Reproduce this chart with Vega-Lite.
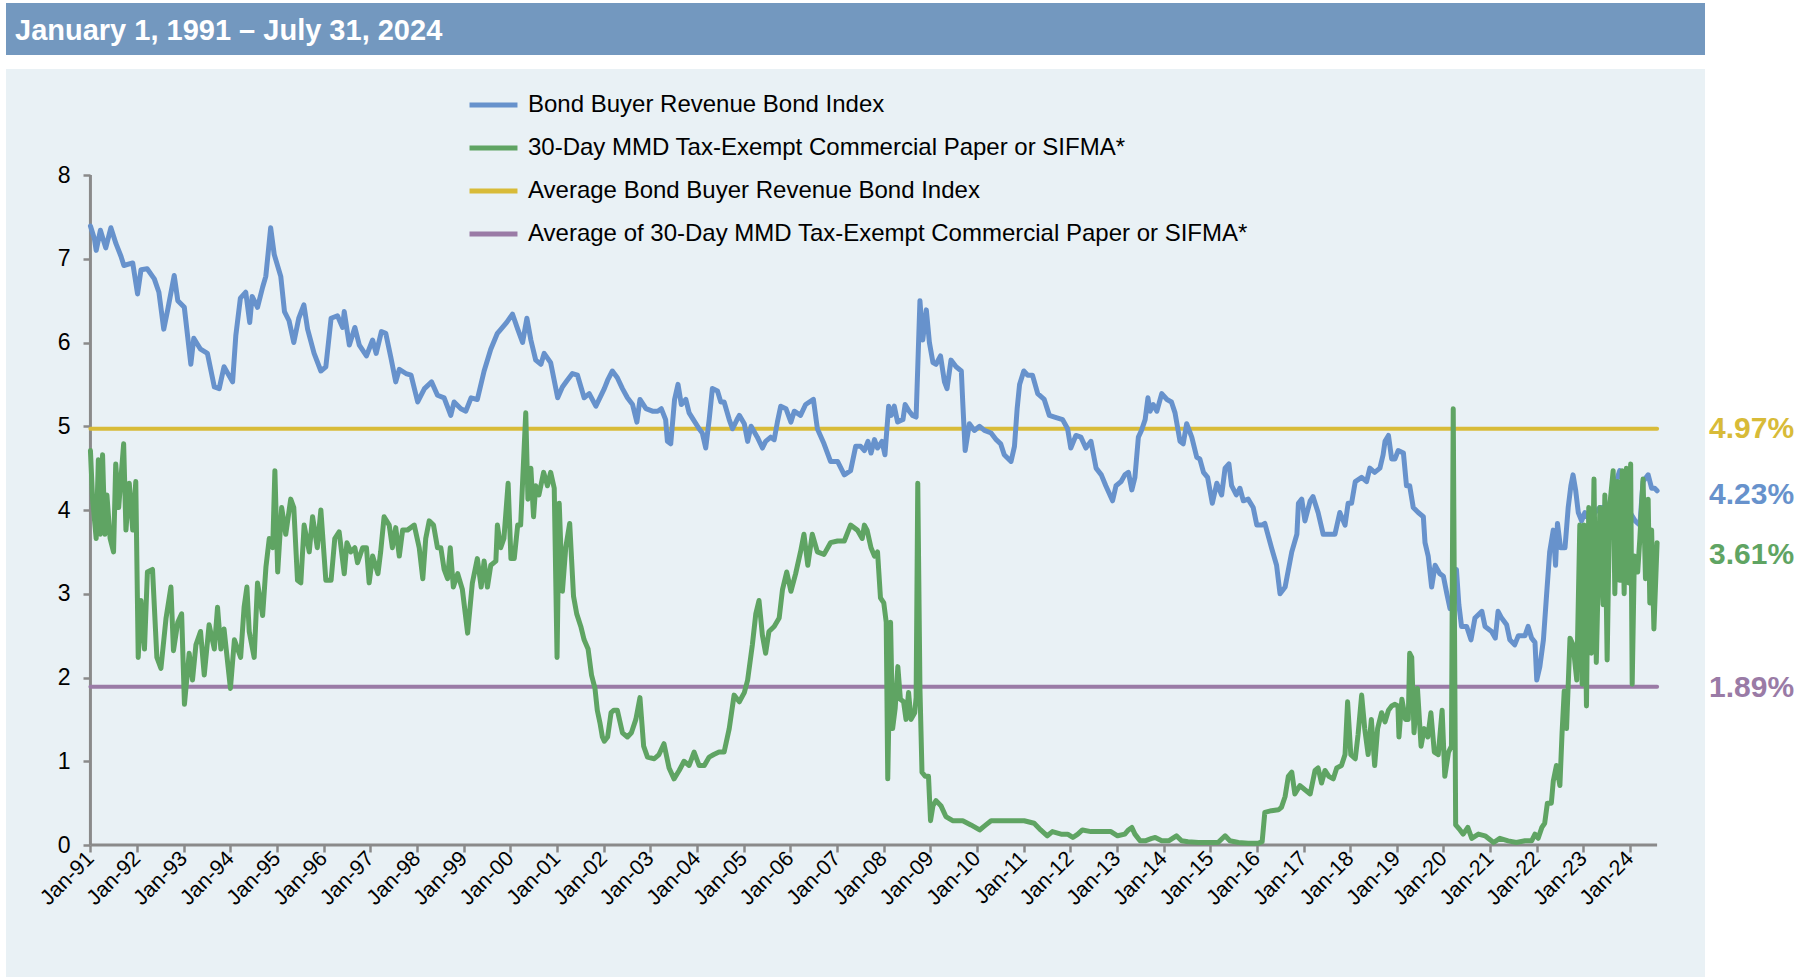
{
"$schema":"https://vega.github.io/schema/vega-lite/v6.json",
"padding":{"left":6,"top":3,"right":0,"bottom":0},
"background":"white",
"spacing":14,
"config":{"view":{"stroke":null},"font":"Liberation Sans"},
"datasets":{
"bond":[
{"date":"1991-01-01","rate":7.39},{"date":"1991-02-01","rate":7.24},{"date":"1991-02-15","rate":7.10},{"date":"1991-03-20","rate":7.34},{"date":"1991-05-01","rate":7.13},{"date":"1991-06-10","rate":7.37},{"date":"1991-07-20","rate":7.18},{"date":"1991-08-28","rate":7.03},{"date":"1991-09-20","rate":6.92},{"date":"1991-11-28","rate":6.95},
{"date":"1992-01-05","rate":6.58},{"date":"1992-02-01","rate":6.87},{"date":"1992-03-20","rate":6.88},{"date":"1992-05-15","rate":6.76},{"date":"1992-06-20","rate":6.60},{"date":"1992-07-28","rate":6.16},{"date":"1992-08-28","rate":6.39},{"date":"1992-10-18","rate":6.80},{"date":"1992-11-15","rate":6.50},
{"date":"1993-01-05","rate":6.42},{"date":"1993-02-25","rate":5.74},{"date":"1993-03-20","rate":6.05},{"date":"1993-05-12","rate":5.92},{"date":"1993-07-05","rate":5.87},{"date":"1993-08-28","rate":5.47},{"date":"1993-10-05","rate":5.45},{"date":"1993-11-12","rate":5.71},
{"date":"1994-01-18","rate":5.53},{"date":"1994-02-12","rate":6.08},{"date":"1994-03-20","rate":6.53},{"date":"1994-05-01","rate":6.60},{"date":"1994-06-01","rate":6.24},{"date":"1994-06-20","rate":6.55},{"date":"1994-08-01","rate":6.42},{"date":"1994-09-10","rate":6.66},{"date":"1994-10-05","rate":6.79},{"date":"1994-11-12","rate":7.37},{"date":"1994-12-10","rate":7.05},
{"date":"1995-01-30","rate":6.79},{"date":"1995-02-28","rate":6.37},{"date":"1995-04-05","rate":6.26},{"date":"1995-05-12","rate":6.00},{"date":"1995-06-20","rate":6.29},{"date":"1995-07-30","rate":6.45},{"date":"1995-08-28","rate":6.16},{"date":"1995-10-18","rate":5.87},{"date":"1995-12-10","rate":5.66},
{"date":"1996-01-18","rate":5.71},{"date":"1996-02-28","rate":6.29},{"date":"1996-04-18","rate":6.32},{"date":"1996-05-28","rate":6.18},{"date":"1996-06-10","rate":6.37},{"date":"1996-07-20","rate":5.97},{"date":"1996-09-01","rate":6.18},{"date":"1996-10-06","rate":5.97},{"date":"1996-12-01","rate":5.84},
{"date":"1997-01-18","rate":6.03},{"date":"1997-02-15","rate":5.87},{"date":"1997-03-28","rate":6.13},{"date":"1997-05-01","rate":6.11},{"date":"1997-06-10","rate":5.82},{"date":"1997-07-18","rate":5.53},{"date":"1997-08-15","rate":5.68},{"date":"1997-10-06","rate":5.63},{"date":"1997-11-15","rate":5.61},
{"date":"1998-01-06","rate":5.29},{"date":"1998-02-28","rate":5.45},{"date":"1998-04-25","rate":5.53},{"date":"1998-06-10","rate":5.37},{"date":"1998-08-01","rate":5.34},{"date":"1998-09-22","rate":5.13},{"date":"1998-10-18","rate":5.29},{"date":"1998-12-10","rate":5.21},
{"date":"1999-01-18","rate":5.18},{"date":"1999-02-28","rate":5.34},{"date":"1999-04-18","rate":5.32},{"date":"1999-06-10","rate":5.66},{"date":"1999-08-01","rate":5.92},{"date":"1999-09-22","rate":6.11},{"date":"1999-11-01","rate":6.18},{"date":"1999-12-04","rate":6.24},
{"date":"2000-01-18","rate":6.34},{"date":"2000-02-28","rate":6.16},{"date":"2000-04-06","rate":6.00},{"date":"2000-05-10","rate":6.29},{"date":"2000-06-10","rate":6.03},{"date":"2000-07-18","rate":5.79},{"date":"2000-08-28","rate":5.74},{"date":"2000-09-22","rate":5.87},{"date":"2000-11-12","rate":5.76},
{"date":"2001-01-06","rate":5.34},{"date":"2001-02-12","rate":5.47},{"date":"2001-03-22","rate":5.55},{"date":"2001-05-01","rate":5.63},{"date":"2001-06-10","rate":5.61},{"date":"2001-08-01","rate":5.34},{"date":"2001-09-10","rate":5.39},{"date":"2001-11-01","rate":5.24},
{"date":"2002-01-06","rate":5.45},{"date":"2002-02-01","rate":5.55},{"date":"2002-03-10","rate":5.66},{"date":"2002-04-18","rate":5.58},{"date":"2002-05-28","rate":5.45},{"date":"2002-07-06","rate":5.34},{"date":"2002-08-15","rate":5.26},{"date":"2002-09-18","rate":5.05},{"date":"2002-10-12","rate":5.32},{"date":"2002-11-28","rate":5.21},
{"date":"2003-01-18","rate":5.18},{"date":"2003-02-28","rate":5.18},{"date":"2003-03-28","rate":5.21},{"date":"2003-05-01","rate":5.08},{"date":"2003-05-15","rate":4.82},{"date":"2003-06-10","rate":4.79},{"date":"2003-07-10","rate":5.32},{"date":"2003-08-06","rate":5.50},{"date":"2003-09-01","rate":5.26},{"date":"2003-10-06","rate":5.32},{"date":"2003-11-01","rate":5.16},{"date":"2003-12-04","rate":5.08},
{"date":"2004-01-18","rate":4.97},{"date":"2004-02-12","rate":4.92},{"date":"2004-03-10","rate":4.74},{"date":"2004-04-06","rate":5.08},{"date":"2004-05-01","rate":5.45},{"date":"2004-06-10","rate":5.42},{"date":"2004-07-06","rate":5.29},{"date":"2004-08-01","rate":5.29},{"date":"2004-09-10","rate":5.08},{"date":"2004-10-06","rate":4.97},{"date":"2004-11-10","rate":5.08},{"date":"2004-11-28","rate":5.13},
{"date":"2005-01-06","rate":5.03},{"date":"2005-02-01","rate":4.82},{"date":"2005-02-28","rate":5.00},{"date":"2005-04-18","rate":4.87},{"date":"2005-05-28","rate":4.74},{"date":"2005-06-22","rate":4.82},{"date":"2005-08-01","rate":4.87},{"date":"2005-08-28","rate":4.84},{"date":"2005-09-22","rate":5.05},{"date":"2005-10-18","rate":5.24},{"date":"2005-11-28","rate":5.21},
{"date":"2006-01-06","rate":5.05},{"date":"2006-02-01","rate":5.18},{"date":"2006-03-22","rate":5.13},{"date":"2006-05-01","rate":5.26},{"date":"2006-07-01","rate":5.32},{"date":"2006-08-01","rate":4.97},{"date":"2006-09-22","rate":4.79},{"date":"2006-11-12","rate":4.58},
{"date":"2007-01-06","rate":4.58},{"date":"2007-02-28","rate":4.42},{"date":"2007-04-18","rate":4.47},{"date":"2007-05-28","rate":4.76},{"date":"2007-07-06","rate":4.76},{"date":"2007-08-04","rate":4.71},{"date":"2007-09-01","rate":4.82},{"date":"2007-09-25","rate":4.68},{"date":"2007-10-22","rate":4.84},{"date":"2007-11-15","rate":4.74},{"date":"2007-12-20","rate":4.82},
{"date":"2008-01-12","rate":4.66},{"date":"2008-02-10","rate":5.24},{"date":"2008-03-01","rate":5.13},{"date":"2008-03-25","rate":5.24},{"date":"2008-04-20","rate":5.05},{"date":"2008-06-01","rate":5.08},{"date":"2008-06-18","rate":5.26},{"date":"2008-07-20","rate":5.18},{"date":"2008-08-15","rate":5.13},{"date":"2008-09-12","rate":5.11},{"date":"2008-09-25","rate":5.71},{"date":"2008-10-12","rate":6.50},{"date":"2008-11-03","rate":6.03},{"date":"2008-12-01","rate":6.39},{"date":"2008-12-25","rate":6.00},
{"date":"2009-01-22","rate":5.76},{"date":"2009-02-15","rate":5.74},{"date":"2009-03-22","rate":5.84},{"date":"2009-04-22","rate":5.53},{"date":"2009-05-12","rate":5.45},{"date":"2009-06-12","rate":5.79},{"date":"2009-07-22","rate":5.71},{"date":"2009-09-01","rate":5.66},{"date":"2009-09-12","rate":5.29},{"date":"2009-10-01","rate":4.71},{"date":"2009-11-03","rate":5.03},{"date":"2009-12-12","rate":4.95},
{"date":"2010-01-22","rate":5.00},{"date":"2010-03-01","rate":4.95},{"date":"2010-04-22","rate":4.92},{"date":"2010-06-01","rate":4.84},{"date":"2010-07-06","rate":4.79},{"date":"2010-08-03","rate":4.66},{"date":"2010-09-25","rate":4.58},{"date":"2010-10-22","rate":4.76},{"date":"2010-11-12","rate":5.21},{"date":"2010-12-01","rate":5.50},
{"date":"2011-01-03","rate":5.66},{"date":"2011-02-03","rate":5.61},{"date":"2011-03-12","rate":5.61},{"date":"2011-04-22","rate":5.39},{"date":"2011-06-12","rate":5.32},{"date":"2011-07-22","rate":5.13},{"date":"2011-09-01","rate":5.11},{"date":"2011-11-03","rate":5.08},{"date":"2011-12-12","rate":4.97},
{"date":"2012-01-06","rate":4.74},{"date":"2012-02-15","rate":4.89},{"date":"2012-03-25","rate":4.87},{"date":"2012-05-03","rate":4.74},{"date":"2012-06-12","rate":4.82},{"date":"2012-07-22","rate":4.50},{"date":"2012-09-01","rate":4.42},{"date":"2012-10-06","rate":4.29},{"date":"2012-11-28","rate":4.11},{"date":"2012-12-25","rate":4.29},
{"date":"2013-02-03","rate":4.34},{"date":"2013-03-04","rate":4.42},{"date":"2013-04-01","rate":4.45},{"date":"2013-04-28","rate":4.24},{"date":"2013-05-22","rate":4.39},{"date":"2013-06-18","rate":4.87},{"date":"2013-07-12","rate":4.95},{"date":"2013-08-10","rate":5.08},{"date":"2013-09-01","rate":5.34},{"date":"2013-09-18","rate":5.18},{"date":"2013-10-12","rate":5.26},{"date":"2013-11-10","rate":5.18},{"date":"2013-12-18","rate":5.39},
{"date":"2014-01-28","rate":5.32},{"date":"2014-03-04","rate":5.29},{"date":"2014-04-01","rate":5.16},{"date":"2014-05-10","rate":4.82},{"date":"2014-06-04","rate":4.79},{"date":"2014-07-01","rate":5.03},{"date":"2014-08-10","rate":4.87},{"date":"2014-09-18","rate":4.63},{"date":"2014-10-12","rate":4.61},{"date":"2014-11-10","rate":4.45},{"date":"2014-12-12","rate":4.39},
{"date":"2015-01-18","rate":4.08},{"date":"2015-02-22","rate":4.32},{"date":"2015-04-01","rate":4.18},{"date":"2015-04-28","rate":4.50},{"date":"2015-05-28","rate":4.55},{"date":"2015-06-18","rate":4.29},{"date":"2015-07-25","rate":4.18},{"date":"2015-08-22","rate":4.26},{"date":"2015-09-18","rate":4.11},{"date":"2015-10-25","rate":4.13},{"date":"2015-12-04","rate":4.03},
{"date":"2016-01-01","rate":3.82},{"date":"2016-02-10","rate":3.82},{"date":"2016-03-04","rate":3.84},{"date":"2016-04-25","rate":3.55},{"date":"2016-06-04","rate":3.34},{"date":"2016-07-01","rate":3.00},{"date":"2016-08-10","rate":3.08},{"date":"2016-10-01","rate":3.50},{"date":"2016-11-10","rate":3.71},{"date":"2016-11-22","rate":4.08},{"date":"2016-12-18","rate":4.13},
{"date":"2017-01-12","rate":3.87},{"date":"2017-02-22","rate":4.11},{"date":"2017-03-16","rate":4.16},{"date":"2017-04-25","rate":3.97},{"date":"2017-06-04","rate":3.71},{"date":"2017-07-25","rate":3.71},{"date":"2017-09-04","rate":3.71},{"date":"2017-10-12","rate":3.97},{"date":"2017-11-22","rate":3.82},{"date":"2017-12-16","rate":4.08},
{"date":"2018-01-12","rate":4.08},{"date":"2018-02-10","rate":4.34},{"date":"2018-04-01","rate":4.39},{"date":"2018-05-10","rate":4.34},{"date":"2018-06-04","rate":4.50},{"date":"2018-07-12","rate":4.45},{"date":"2018-08-22","rate":4.50},{"date":"2018-09-16","rate":4.66},{"date":"2018-10-01","rate":4.82},{"date":"2018-10-28","rate":4.89},{"date":"2018-11-22","rate":4.61},{"date":"2018-12-18","rate":4.61},
{"date":"2019-01-12","rate":4.71},{"date":"2019-02-22","rate":4.68},{"date":"2019-03-18","rate":4.29},{"date":"2019-04-12","rate":4.29},{"date":"2019-05-10","rate":4.03},{"date":"2019-06-18","rate":3.97},{"date":"2019-07-28","rate":3.92},{"date":"2019-08-10","rate":3.61},{"date":"2019-09-04","rate":3.45},{"date":"2019-10-01","rate":3.08},{"date":"2019-10-28","rate":3.34},{"date":"2019-12-04","rate":3.24},
{"date":"2020-01-01","rate":3.21},{"date":"2020-01-28","rate":3.00},{"date":"2020-02-22","rate":2.82},{"date":"2020-03-18","rate":2.82},{"date":"2020-04-12","rate":3.29},{"date":"2020-05-01","rate":2.87},{"date":"2020-05-22","rate":2.61},{"date":"2020-07-01","rate":2.61},{"date":"2020-08-04","rate":2.45},{"date":"2020-09-04","rate":2.71},{"date":"2020-10-28","rate":2.79},{"date":"2020-11-22","rate":2.61},
{"date":"2021-01-12","rate":2.55},{"date":"2021-02-10","rate":2.47},{"date":"2021-03-04","rate":2.79},{"date":"2021-04-01","rate":2.71},{"date":"2021-05-10","rate":2.63},{"date":"2021-06-04","rate":2.45},{"date":"2021-07-12","rate":2.39},{"date":"2021-08-10","rate":2.50},{"date":"2021-10-01","rate":2.50},{"date":"2021-10-25","rate":2.61},{"date":"2021-11-22","rate":2.47},{"date":"2021-12-18","rate":2.42},
{"date":"2022-01-01","rate":1.97},{"date":"2022-01-25","rate":2.13},{"date":"2022-02-22","rate":2.45},{"date":"2022-03-18","rate":2.97},{"date":"2022-04-12","rate":3.50},{"date":"2022-05-10","rate":3.76},{"date":"2022-05-28","rate":3.34},{"date":"2022-06-12","rate":3.84},{"date":"2022-07-06","rate":3.55},{"date":"2022-08-10","rate":3.55},{"date":"2022-09-04","rate":4.03},{"date":"2022-09-25","rate":4.29},{"date":"2022-10-12","rate":4.42},{"date":"2022-11-01","rate":4.24},{"date":"2022-11-22","rate":3.97},{"date":"2022-12-18","rate":3.87},
{"date":"2023-01-12","rate":3.97},{"date":"2023-02-22","rate":3.87},{"date":"2023-04-01","rate":3.97},{"date":"2023-05-10","rate":4.03},{"date":"2023-06-18","rate":4.03},{"date":"2023-07-25","rate":4.08},{"date":"2023-09-04","rate":4.29},{"date":"2023-10-12","rate":4.47},{"date":"2023-11-10","rate":4.34},
{"date":"2024-01-01","rate":3.97},{"date":"2024-02-10","rate":3.87},{"date":"2024-03-18","rate":3.82},{"date":"2024-04-12","rate":4.34},{"date":"2024-05-22","rate":4.42},{"date":"2024-06-18","rate":4.26},{"date":"2024-07-12","rate":4.26},{"date":"2024-07-31","rate":4.23}
],
"sifma":[
{"date":"1991-01-01","rate":4.71},{"date":"1991-01-18","rate":4.13},{"date":"1991-02-15","rate":3.66},{"date":"1991-03-04","rate":4.60},{"date":"1991-03-18","rate":3.71},{"date":"1991-04-06","rate":4.66},{"date":"1991-04-24","rate":3.71},{"date":"1991-05-10","rate":4.18},{"date":"1991-06-04","rate":3.66},{"date":"1991-07-01","rate":3.50},{"date":"1991-07-18","rate":4.55},{"date":"1991-08-10","rate":4.03},{"date":"1991-09-18","rate":4.79},{"date":"1991-10-06","rate":3.76},{"date":"1991-11-01","rate":4.32},{"date":"1991-11-28","rate":3.76},{"date":"1991-12-22","rate":4.34},
{"date":"1992-01-10","rate":2.24},{"date":"1992-02-01","rate":2.92},{"date":"1992-02-28","rate":2.34},{"date":"1992-03-22","rate":3.26},{"date":"1992-05-01","rate":3.29},{"date":"1992-06-04","rate":2.24},{"date":"1992-07-06","rate":2.11},{"date":"1992-08-15","rate":2.71},{"date":"1992-09-22","rate":3.08},{"date":"1992-10-12","rate":2.32},{"date":"1992-11-15","rate":2.66},{"date":"1992-12-15","rate":2.76},
{"date":"1993-01-06","rate":1.68},{"date":"1993-02-12","rate":2.29},{"date":"1993-03-10","rate":1.97},{"date":"1993-04-06","rate":2.39},{"date":"1993-05-12","rate":2.55},{"date":"1993-06-10","rate":2.03},{"date":"1993-07-18","rate":2.63},{"date":"1993-08-28","rate":2.34},{"date":"1993-09-22","rate":2.84},{"date":"1993-10-18","rate":2.34},{"date":"1993-11-12","rate":2.58},
{"date":"1994-01-01","rate":1.87},{"date":"1994-02-01","rate":2.45},{"date":"1994-03-22","rate":2.24},{"date":"1994-04-18","rate":2.84},{"date":"1994-05-10","rate":3.08},{"date":"1994-05-28","rate":2.55},{"date":"1994-07-06","rate":2.24},{"date":"1994-08-01","rate":3.13},{"date":"1994-09-10","rate":2.74},{"date":"1994-10-06","rate":3.32},{"date":"1994-11-01","rate":3.66},{"date":"1994-11-28","rate":3.55},{"date":"1994-12-15","rate":4.47},
{"date":"1995-01-06","rate":3.26},{"date":"1995-02-06","rate":4.03},{"date":"1995-03-10","rate":3.71},{"date":"1995-04-18","rate":4.13},{"date":"1995-05-12","rate":4.03},{"date":"1995-06-10","rate":3.16},{"date":"1995-07-06","rate":3.13},{"date":"1995-08-01","rate":3.82},{"date":"1995-09-10","rate":3.50},{"date":"1995-10-06","rate":3.92},{"date":"1995-11-12","rate":3.55},{"date":"1995-12-10","rate":4.00},
{"date":"1996-01-18","rate":3.16},{"date":"1996-02-28","rate":3.16},{"date":"1996-03-28","rate":3.66},{"date":"1996-05-01","rate":3.74},{"date":"1996-06-10","rate":3.24},{"date":"1996-07-01","rate":3.61},{"date":"1996-08-01","rate":3.50},{"date":"1996-09-01","rate":3.55},{"date":"1996-09-22","rate":3.37},{"date":"1996-11-01","rate":3.55},{"date":"1996-12-01","rate":3.55},{"date":"1996-12-22","rate":3.13},
{"date":"1997-01-18","rate":3.45},{"date":"1997-03-01","rate":3.24},{"date":"1997-03-22","rate":3.50},{"date":"1997-04-18","rate":3.92},{"date":"1997-05-28","rate":3.82},{"date":"1997-06-22","rate":3.55},{"date":"1997-07-18","rate":3.79},{"date":"1997-08-15","rate":3.45},{"date":"1997-09-10","rate":3.76},{"date":"1997-10-18","rate":3.76},{"date":"1997-12-10","rate":3.82},
{"date":"1998-01-18","rate":3.55},{"date":"1998-02-15","rate":3.18},{"date":"1998-03-10","rate":3.66},{"date":"1998-04-06","rate":3.87},{"date":"1998-05-10","rate":3.82},{"date":"1998-06-10","rate":3.55},{"date":"1998-07-06","rate":3.55},{"date":"1998-08-01","rate":3.29},{"date":"1998-08-28","rate":3.18},{"date":"1998-09-18","rate":3.55},{"date":"1998-10-12","rate":3.08},{"date":"1998-11-15","rate":3.24},{"date":"1998-12-22","rate":3.05},
{"date":"1999-02-01","rate":2.53},{"date":"1999-03-10","rate":3.13},{"date":"1999-04-18","rate":3.42},{"date":"1999-05-18","rate":3.08},{"date":"1999-06-10","rate":3.39},{"date":"1999-07-06","rate":3.08},{"date":"1999-08-01","rate":3.34},{"date":"1999-09-10","rate":3.39},{"date":"1999-09-22","rate":3.82},{"date":"1999-10-18","rate":3.55},{"date":"1999-11-12","rate":3.66},{"date":"1999-12-15","rate":4.32},
{"date":"2000-01-06","rate":3.42},{"date":"2000-02-01","rate":3.42},{"date":"2000-02-28","rate":3.82},{"date":"2000-03-22","rate":3.82},{"date":"2000-05-01","rate":5.16},{"date":"2000-05-18","rate":4.13},{"date":"2000-06-10","rate":4.50},{"date":"2000-07-01","rate":3.92},{"date":"2000-07-18","rate":4.29},{"date":"2000-08-12","rate":4.18},{"date":"2000-09-18","rate":4.45},{"date":"2000-10-18","rate":4.29},{"date":"2000-11-12","rate":4.45},{"date":"2000-12-10","rate":4.26},
{"date":"2001-01-01","rate":2.24},{"date":"2001-01-18","rate":4.08},{"date":"2001-02-12","rate":3.03},{"date":"2001-03-10","rate":3.55},{"date":"2001-04-10","rate":3.84},{"date":"2001-05-10","rate":2.97},{"date":"2001-06-04","rate":2.76},{"date":"2001-07-06","rate":2.61},{"date":"2001-08-01","rate":2.45},{"date":"2001-09-01","rate":2.34},{"date":"2001-09-28","rate":2.03},{"date":"2001-10-25","rate":1.87},{"date":"2001-11-12","rate":1.61},{"date":"2001-12-04","rate":1.45},{"date":"2001-12-22","rate":1.29},
{"date":"2002-01-06","rate":1.24},{"date":"2002-02-01","rate":1.29},{"date":"2002-02-28","rate":1.58},{"date":"2002-03-22","rate":1.61},{"date":"2002-04-18","rate":1.61},{"date":"2002-05-28","rate":1.34},{"date":"2002-07-06","rate":1.29},{"date":"2002-08-06","rate":1.34},{"date":"2002-09-10","rate":1.50},{"date":"2002-10-12","rate":1.76},{"date":"2002-11-10","rate":1.18},{"date":"2002-12-10","rate":1.05},
{"date":"2003-02-01","rate":1.03},{"date":"2003-03-10","rate":1.08},{"date":"2003-04-18","rate":1.21},{"date":"2003-05-28","rate":0.92},{"date":"2003-07-06","rate":0.79},{"date":"2003-08-15","rate":0.89},{"date":"2003-09-22","rate":1.00},{"date":"2003-11-01","rate":0.95},{"date":"2003-12-10","rate":1.11},
{"date":"2004-01-18","rate":0.95},{"date":"2004-02-28","rate":0.95},{"date":"2004-04-06","rate":1.05},{"date":"2004-05-12","rate":1.08},{"date":"2004-06-22","rate":1.11},{"date":"2004-08-01","rate":1.11},{"date":"2004-09-10","rate":1.39},{"date":"2004-10-18","rate":1.79},{"date":"2004-11-28","rate":1.71},
{"date":"2005-01-06","rate":1.82},{"date":"2005-02-01","rate":1.97},{"date":"2005-03-10","rate":2.39},{"date":"2005-04-06","rate":2.76},{"date":"2005-05-01","rate":2.92},{"date":"2005-05-28","rate":2.50},{"date":"2005-06-22","rate":2.29},{"date":"2005-07-18","rate":2.55},{"date":"2005-08-28","rate":2.61},{"date":"2005-10-06","rate":2.71},{"date":"2005-11-01","rate":3.05},{"date":"2005-12-04","rate":3.26},
{"date":"2006-01-06","rate":3.03},{"date":"2006-02-12","rate":3.24},{"date":"2006-03-22","rate":3.50},{"date":"2006-04-18","rate":3.71},{"date":"2006-05-18","rate":3.34},{"date":"2006-06-22","rate":3.71},{"date":"2006-08-01","rate":3.50},{"date":"2006-09-22","rate":3.47},{"date":"2006-11-12","rate":3.61},
{"date":"2007-01-06","rate":3.63},{"date":"2007-02-28","rate":3.63},{"date":"2007-04-18","rate":3.82},{"date":"2007-06-10","rate":3.76},{"date":"2007-07-18","rate":3.66},{"date":"2007-08-04","rate":3.82},{"date":"2007-08-25","rate":3.76},{"date":"2007-09-25","rate":3.55},{"date":"2007-10-22","rate":3.45},{"date":"2007-11-15","rate":3.50},{"date":"2007-12-08","rate":2.95},
{"date":"2008-01-03","rate":2.89},{"date":"2008-01-22","rate":2.66},{"date":"2008-02-03","rate":0.79},{"date":"2008-02-25","rate":2.66},{"date":"2008-03-12","rate":1.39},{"date":"2008-04-01","rate":1.63},{"date":"2008-04-22","rate":2.13},{"date":"2008-05-12","rate":1.74},{"date":"2008-06-06","rate":1.71},{"date":"2008-06-25","rate":1.50},{"date":"2008-07-15","rate":1.82},{"date":"2008-08-03","rate":1.50},{"date":"2008-09-01","rate":1.58},{"date":"2008-09-12","rate":1.76},{"date":"2008-09-25","rate":4.32},{"date":"2008-10-12","rate":1.87},{"date":"2008-10-28","rate":0.87},{"date":"2008-11-22","rate":0.82},{"date":"2008-12-18","rate":0.82},
{"date":"2009-01-03","rate":0.29},{"date":"2009-01-22","rate":0.47},{"date":"2009-02-15","rate":0.53},{"date":"2009-03-25","rate":0.47},{"date":"2009-05-03","rate":0.34},{"date":"2009-06-25","rate":0.29},{"date":"2009-09-12","rate":0.29},{"date":"2009-11-15","rate":0.24},
{"date":"2010-01-22","rate":0.18},{"date":"2010-03-12","rate":0.24},{"date":"2010-04-22","rate":0.29},{"date":"2010-07-06","rate":0.29},{"date":"2010-09-25","rate":0.29},
{"date":"2011-01-06","rate":0.29},{"date":"2011-03-25","rate":0.26},{"date":"2011-05-15","rate":0.18},{"date":"2011-07-06","rate":0.11},{"date":"2011-08-15","rate":0.16},{"date":"2011-10-22","rate":0.13},{"date":"2011-12-12","rate":0.13},
{"date":"2012-01-22","rate":0.09},{"date":"2012-03-01","rate":0.13},{"date":"2012-04-06","rate":0.18},{"date":"2012-06-12","rate":0.16},{"date":"2012-09-01","rate":0.16},{"date":"2012-11-15","rate":0.16},
{"date":"2013-01-06","rate":0.11},{"date":"2013-03-04","rate":0.13},{"date":"2013-04-01","rate":0.18},{"date":"2013-04-28","rate":0.21},{"date":"2013-05-22","rate":0.13},{"date":"2013-07-01","rate":0.05},{"date":"2013-08-10","rate":0.05},{"date":"2013-10-01","rate":0.08},{"date":"2013-10-28","rate":0.09},{"date":"2013-12-18","rate":0.05},
{"date":"2014-02-10","rate":0.05},{"date":"2014-04-12","rate":0.11},{"date":"2014-05-22","rate":0.05},{"date":"2014-07-12","rate":0.04},{"date":"2014-10-01","rate":0.03},{"date":"2014-12-18","rate":0.03},
{"date":"2015-03-04","rate":0.03},{"date":"2015-04-28","rate":0.11},{"date":"2015-06-04","rate":0.05},{"date":"2015-08-10","rate":0.03},{"date":"2015-10-25","rate":0.02},
{"date":"2016-01-12","rate":0.02},{"date":"2016-02-12","rate":0.04},{"date":"2016-03-04","rate":0.39},{"date":"2016-04-25","rate":0.41},{"date":"2016-06-18","rate":0.42},{"date":"2016-07-12","rate":0.45},{"date":"2016-08-10","rate":0.58},{"date":"2016-09-04","rate":0.82},{"date":"2016-10-01","rate":0.87},{"date":"2016-10-25","rate":0.61},{"date":"2016-12-04","rate":0.71},
{"date":"2017-01-12","rate":0.66},{"date":"2017-02-22","rate":0.61},{"date":"2017-04-01","rate":0.89},{"date":"2017-04-25","rate":0.92},{"date":"2017-05-22","rate":0.74},{"date":"2017-06-18","rate":0.89},{"date":"2017-07-18","rate":0.82},{"date":"2017-08-22","rate":0.79},{"date":"2017-09-18","rate":0.92},{"date":"2017-10-25","rate":0.95},{"date":"2017-11-22","rate":1.08},{"date":"2017-12-12","rate":1.71},
{"date":"2018-01-06","rate":1.08},{"date":"2018-02-10","rate":1.03},{"date":"2018-03-04","rate":1.32},{"date":"2018-04-01","rate":1.79},{"date":"2018-04-25","rate":1.39},{"date":"2018-05-22","rate":1.08},{"date":"2018-06-16","rate":1.50},{"date":"2018-07-12","rate":0.95},{"date":"2018-08-04","rate":1.39},{"date":"2018-09-04","rate":1.58},{"date":"2018-10-01","rate":1.47},{"date":"2018-10-28","rate":1.61},{"date":"2018-11-22","rate":1.66},{"date":"2018-12-18","rate":1.68},
{"date":"2019-01-10","rate":1.66},{"date":"2019-01-18","rate":1.29},{"date":"2019-02-10","rate":1.74},{"date":"2019-03-10","rate":1.50},{"date":"2019-04-01","rate":1.50},{"date":"2019-04-12","rate":2.29},{"date":"2019-04-28","rate":2.24},{"date":"2019-05-16","rate":1.34},{"date":"2019-06-12","rate":1.87},{"date":"2019-07-10","rate":1.18},{"date":"2019-08-04","rate":1.39},{"date":"2019-09-01","rate":1.29},{"date":"2019-09-25","rate":1.58},{"date":"2019-10-22","rate":1.11},{"date":"2019-11-22","rate":1.08},{"date":"2019-12-22","rate":1.61},
{"date":"2020-01-12","rate":0.82},{"date":"2020-02-10","rate":1.11},{"date":"2020-03-04","rate":1.18},{"date":"2020-03-18","rate":5.21},{"date":"2020-04-06","rate":0.24},{"date":"2020-05-10","rate":0.18},{"date":"2020-06-04","rate":0.13},{"date":"2020-07-10","rate":0.21},{"date":"2020-08-10","rate":0.08},{"date":"2020-10-01","rate":0.13},{"date":"2020-11-22","rate":0.11},
{"date":"2021-01-28","rate":0.03},{"date":"2021-03-18","rate":0.08},{"date":"2021-05-22","rate":0.05},{"date":"2021-07-25","rate":0.03},{"date":"2021-10-01","rate":0.05},{"date":"2021-11-22","rate":0.05},{"date":"2021-12-18","rate":0.13},
{"date":"2022-01-12","rate":0.08},{"date":"2022-02-10","rate":0.21},{"date":"2022-03-04","rate":0.26},{"date":"2022-03-25","rate":0.50},{"date":"2022-04-25","rate":0.50},{"date":"2022-05-10","rate":0.76},{"date":"2022-06-04","rate":0.95},{"date":"2022-07-01","rate":0.71},{"date":"2022-07-18","rate":1.34},{"date":"2022-08-04","rate":1.84},{"date":"2022-08-22","rate":1.39},{"date":"2022-09-18","rate":2.47},{"date":"2022-10-12","rate":2.39},{"date":"2022-11-10","rate":1.97},{"date":"2022-12-04","rate":3.82},{"date":"2022-12-22","rate":1.92},
{"date":"2023-01-06","rate":3.82},{"date":"2023-01-25","rate":1.66},{"date":"2023-02-12","rate":4.03},{"date":"2023-03-04","rate":2.29},{"date":"2023-03-25","rate":4.37},{"date":"2023-04-12","rate":2.18},{"date":"2023-05-10","rate":4.03},{"date":"2023-06-04","rate":2.87},{"date":"2023-06-18","rate":4.18},{"date":"2023-07-06","rate":2.21},{"date":"2023-07-25","rate":4.03},{"date":"2023-08-22","rate":4.47},{"date":"2023-09-04","rate":3.00},{"date":"2023-09-25","rate":4.34},{"date":"2023-10-12","rate":3.16},{"date":"2023-11-01","rate":4.47},{"date":"2023-11-16","rate":3.00},{"date":"2023-12-04","rate":4.50},{"date":"2023-12-22","rate":3.13},
{"date":"2024-01-06","rate":4.55},{"date":"2024-01-18","rate":1.92},{"date":"2024-02-04","rate":3.45},{"date":"2024-03-01","rate":3.26},{"date":"2024-03-18","rate":3.66},{"date":"2024-04-12","rate":4.37},{"date":"2024-05-01","rate":3.18},{"date":"2024-05-22","rate":4.13},{"date":"2024-06-04","rate":2.89},{"date":"2024-06-18","rate":3.76},{"date":"2024-07-06","rate":2.58},{"date":"2024-07-31","rate":3.61}
],
"avg":[
{"series":"Average Bond Buyer Revenue Bond Index","rate":4.97,"start":"1991-01-01","end":"2024-07-31"},
{"series":"Average of 30-Day MMD Tax-Exempt Commercial Paper or SIFMA*","rate":1.89,"start":"1991-01-01","end":"2024-07-31"}
],
"axisx":[{"start":"1991-01-01","end":"2024-07-31","rate":0}],
"axisy":[{"date":"1991-01-01","low":0,"high":8}]
},
"vconcat":[
{
"width":1699,"height":52,
"view":{"fill":"#7398bf","stroke":null},
"data":{"values":[{"title":"January 1, 1991 – July 31, 2024"}]},
"mark":{"type":"text","align":"left","baseline":"middle","dx":9,"dy":2,"fontSize":29,"fontWeight":"bold","font":"Liberation Sans","color":"#ffffff"},
"encoding":{
"x":{"datum":0,"type":"quantitative","scale":{"domain":[0,1]},"axis":null},
"y":{"datum":0,"type":"quantitative","scale":{"domain":[-1,1]},"axis":null},
"text":{"field":"title"}
}
},
{
"width":1699,"height":908,
"view":{"fill":"#e9f1f5","stroke":null},
"layer":[
{
"data":{"name":"axisy"},
"mark":{"type":"rule","color":"#8a8a8a","strokeWidth":3},
"encoding":{
"x":{"field":"date","type":"temporal",
"scale":{"type":"utc","domain":[{"year":1989,"month":3,"date":11,"utc":true},{"year":2025,"month":8,"date":10,"utc":true}],"nice":false},
"axis":{"title":null,"format":"%b-%y","offset":-132,"domain":false,"grid":false,"tickSize":7,"tickColor":"#8a8a8a","tickWidth":2.5,"labelAngle":-45,"labelAlign":"right","labelBaseline":"middle","labelFontSize":21.5,"labelColor":"#000000","labelFont":"Liberation Sans","labelPadding":3,"labelOverlap":false,"labelFlush":false,"labelBound":false,
"values":[{"year":1991,"month":1,"date":1,"utc":true},{"year":1992,"month":1,"date":1,"utc":true},{"year":1993,"month":1,"date":1,"utc":true},{"year":1994,"month":1,"date":1,"utc":true},{"year":1995,"month":1,"date":1,"utc":true},{"year":1996,"month":1,"date":1,"utc":true},{"year":1997,"month":1,"date":1,"utc":true},{"year":1998,"month":1,"date":1,"utc":true},{"year":1999,"month":1,"date":1,"utc":true},{"year":2000,"month":1,"date":1,"utc":true},{"year":2001,"month":1,"date":1,"utc":true},{"year":2002,"month":1,"date":1,"utc":true},{"year":2003,"month":1,"date":1,"utc":true},{"year":2004,"month":1,"date":1,"utc":true},{"year":2005,"month":1,"date":1,"utc":true},{"year":2006,"month":1,"date":1,"utc":true},{"year":2007,"month":1,"date":1,"utc":true},{"year":2008,"month":1,"date":1,"utc":true},{"year":2009,"month":1,"date":1,"utc":true},{"year":2010,"month":1,"date":1,"utc":true},{"year":2011,"month":1,"date":1,"utc":true},{"year":2012,"month":1,"date":1,"utc":true},{"year":2013,"month":1,"date":1,"utc":true},{"year":2014,"month":1,"date":1,"utc":true},{"year":2015,"month":1,"date":1,"utc":true},{"year":2016,"month":1,"date":1,"utc":true},{"year":2017,"month":1,"date":1,"utc":true},{"year":2018,"month":1,"date":1,"utc":true},{"year":2019,"month":1,"date":1,"utc":true},{"year":2020,"month":1,"date":1,"utc":true},{"year":2021,"month":1,"date":1,"utc":true},{"year":2022,"month":1,"date":1,"utc":true},{"year":2023,"month":1,"date":1,"utc":true},{"year":2024,"month":1,"date":1,"utc":true}]}},
"y":{"field":"low","type":"quantitative",
"scale":{"domain":[-1.576,9.266],"nice":false,"zero":false},
"axis":{"title":null,"values":[0,1,2,3,4,5,6,7,8],"format":"d","offset":-84,"domain":false,"grid":false,"tickSize":7,"tickColor":"#8a8a8a","tickWidth":2.5,"labelFontSize":23,"labelColor":"#000000","labelFont":"Liberation Sans","labelPadding":13}},
"y2":{"field":"high"}
}
},
{
"data":{"name":"axisx"},
"mark":{"type":"rule","color":"#8a8a8a","strokeWidth":3},
"encoding":{
"x":{"field":"start","type":"temporal"},
"x2":{"field":"end"},
"y":{"field":"rate","type":"quantitative"}
}
},
{
"data":{"name":"avg"},
"mark":{"type":"rule","strokeWidth":4,"strokeCap":"round"},
"encoding":{
"x":{"field":"start","type":"temporal"},
"x2":{"field":"end"},
"y":{"field":"rate","type":"quantitative"},
"color":{"field":"series","type":"nominal",
"scale":{"domain":["Bond Buyer Revenue Bond Index","30-Day MMD Tax-Exempt Commercial Paper or SIFMA*","Average Bond Buyer Revenue Bond Index","Average of 30-Day MMD Tax-Exempt Commercial Paper or SIFMA*"],"range":["#6792cc","#5fa463","#d8bb38","#9a7ba6"]},
"legend":{"title":null,"orient":"none","legendX":461,"legendY":90,"symbolType":"stroke","symbolSize":2300,"symbolStrokeWidth":5,"labelFontSize":24,"labelFont":"Liberation Sans","labelColor":"#000000","labelLimit":1200,"labelOffset":8,"clipHeight":24,"rowPadding":19,"padding":0}}
}
},
{
"data":{"name":"bond"},
"mark":{"type":"line","strokeWidth":5,"strokeJoin":"round","strokeCap":"round"},
"encoding":{
"x":{"field":"date","type":"temporal"},
"y":{"field":"rate","type":"quantitative"},
"color":{"datum":"Bond Buyer Revenue Bond Index"}
}
},
{
"data":{"name":"sifma"},
"mark":{"type":"line","strokeWidth":5,"strokeJoin":"round","strokeCap":"round"},
"encoding":{
"x":{"field":"date","type":"temporal"},
"y":{"field":"rate","type":"quantitative"},
"color":{"datum":"30-Day MMD Tax-Exempt Commercial Paper or SIFMA*"}
}
},
{
"data":{"values":[{"label":"4.97%","rate":4.97}]},
"mark":{"type":"text","align":"left","baseline":"middle","dx":52,"fontSize":30,"fontWeight":"bold","font":"Liberation Sans","color":"#d8bb38"},
"encoding":{"x":{"datum":{"year":2024,"month":7,"date":31,"utc":true},"type":"temporal"},"y":{"field":"rate","type":"quantitative"},"text":{"field":"label"}}
},
{
"data":{"values":[{"label":"4.23%","rate":4.23}]},
"mark":{"type":"text","align":"left","baseline":"middle","dx":52,"dy":4,"fontSize":30,"fontWeight":"bold","font":"Liberation Sans","color":"#6792cc"},
"encoding":{"x":{"datum":{"year":2024,"month":7,"date":31,"utc":true},"type":"temporal"},"y":{"field":"rate","type":"quantitative"},"text":{"field":"label"}}
},
{
"data":{"values":[{"label":"3.61%","rate":3.61}]},
"mark":{"type":"text","align":"left","baseline":"middle","dx":52,"dy":12,"fontSize":30,"fontWeight":"bold","font":"Liberation Sans","color":"#5fa463"},
"encoding":{"x":{"datum":{"year":2024,"month":7,"date":31,"utc":true},"type":"temporal"},"y":{"field":"rate","type":"quantitative"},"text":{"field":"label"}}
},
{
"data":{"values":[{"label":"1.89%","rate":1.89}]},
"mark":{"type":"text","align":"left","baseline":"middle","dx":52,"dy":1,"fontSize":30,"fontWeight":"bold","font":"Liberation Sans","color":"#9a7ba6"},
"encoding":{"x":{"datum":{"year":2024,"month":7,"date":31,"utc":true},"type":"temporal"},"y":{"field":"rate","type":"quantitative"},"text":{"field":"label"}}
}
]
}
],
"resolve":{"scale":{"x":"independent","y":"independent"}}
}
